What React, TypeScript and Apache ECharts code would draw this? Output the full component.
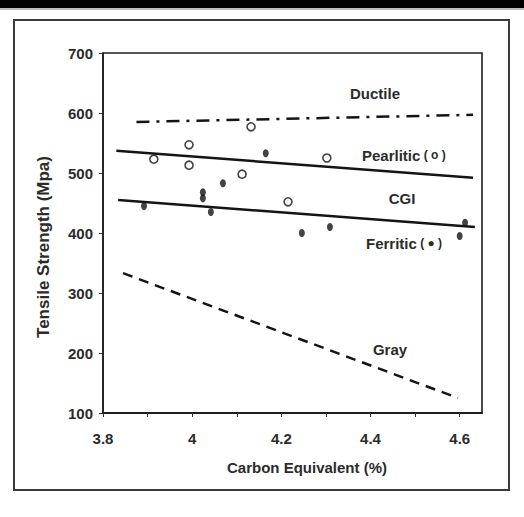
import React, { useEffect, useRef } from "react";
import * as echarts from "echarts";

// Axis ticks
const xLabelTicks = [3.8, 4.0, 4.2, 4.4, 4.6];
const xMinorTicks = [3.8, 3.9, 4.0, 4.1, 4.2, 4.3, 4.4, 4.5, 4.6];
const yTicks = [100, 200, 300, 400, 500, 600, 700];

// Trend lines (endpoints)
const ductileX = [3.875, 4.63];
const ductileY = [585, 597];
const pearliticLineX = [3.83, 4.63];
const pearliticLineY = [537, 492];
const cgiLineX = [3.834, 4.634];
const cgiLineY = [455, 410];
const grayX = [3.845, 4.596];
const grayY = [333, 125];

// Measured points
const pearliticX = [3.914, 3.993, 3.993, 4.112, 4.132, 4.215, 4.302];
const pearliticY = [523, 547, 513, 498, 577, 452, 525];
const ferriticX = [3.892, 4.024, 4.024, 4.042, 4.069, 4.165, 4.246, 4.309, 4.6, 4.612];
const ferriticY = [445, 458, 468, 435, 483, 533, 400, 410, 395, 417];

const zip = (xs: number[], ys: number[]) => xs.map((x, i) => [x, ys[i]]);

const FONT = "'Liberation Sans', Arial, sans-serif";
const TXT = "#2b2b2b";
const INK = "#141414";

export default function App() {
  const ref = useRef<HTMLDivElement>(null);
  useEffect(() => {
    if (!ref.current) return;
    const chart = echarts.init(ref.current, null, { renderer: "svg" });
    const lineSeries = (name: string, xs: number[], ys: number[], type: any, width = 2.5) => ({
      name,
      type: "line",
      data: zip(xs, ys),
      symbol: "none",
      lineStyle: { color: INK, width, type },
      silent: true,
      z: 3,
    });
    chart.setOption({
      animation: false,
      backgroundColor: "#ffffff",
      grid: {
        left: 103,
        right: 42,
        top: 53,
        bottom: 104,
        show: true,
        borderColor: "#1e1e1e",
        borderWidth: 1.6,
      },
      xAxis: {
        type: "value",
        min: 3.8,
        max: 4.65,
        interval: 0.1,
        splitLine: { show: false },
        axisLine: { lineStyle: { color: "#1e1e1e", width: 2 } },
        axisTick: {
          length: 4,
          lineStyle: { color: "#333" },
          customValues: xMinorTicks,
        },
        axisLabel: {
          customValues: xLabelTicks,
          formatter: (v: number) => String(Math.round(v * 10) / 10),
          margin: 18,
          color: TXT,
          fontFamily: FONT,
          fontWeight: "bold",
          fontSize: 15,
        },
      },
      yAxis: {
        type: "value",
        min: 100,
        max: 700,
        interval: 100,
        splitLine: { show: false },
        axisLine: { lineStyle: { color: "#1e1e1e", width: 1.6 } },
        axisTick: { length: 4, lineStyle: { color: "#333" }, customValues: yTicks },
        axisLabel: {
          customValues: yTicks,
          margin: 10,
          color: TXT,
          fontFamily: FONT,
          fontWeight: "bold",
          fontSize: 15,
          padding: [5, 0, 0, 0],
        },
      },
      graphic: [
        { type: "rect", shape: { x: 0, y: 0, width: 524, height: 8 }, style: { fill: "#000" } },
        { type: "rect", shape: { x: 0, y: 8, width: 524, height: 2 }, style: { fill: "#bdbdbd" } },
        {
          type: "rect",
          shape: { x: 14, y: 20, width: 495, height: 470 },
          style: { fill: "none", stroke: "#3a3a3a", lineWidth: 2 },
        },
        {
          type: "text",
          x: 307,
          y: 467,
          style: {
            text: "Carbon Equivalent (%)",
            textAlign: "center",
            textVerticalAlign: "middle",
            fill: TXT,
            font: `bold 15px ${FONT}`,
          },
        },
        {
          type: "text",
          x: 43,
          y: 247,
          rotation: Math.PI / 2,
          style: {
            text: "Tensile Strength (Mpa)",
            textAlign: "center",
            textVerticalAlign: "middle",
            fill: TXT,
            font: `bold 17px ${FONT}`,
          },
        },
        {
          type: "text",
          x: 375,
          y: 93,
          style: { text: "Ductile", textAlign: "center", textVerticalAlign: "middle", fill: TXT, font: `bold 15px ${FONT}` },
        },
        {
          type: "text",
          x: 362,
          y: 155,
          style: {
            text: "{a|Pearlitic}{b| ( o )}",
            textAlign: "left",
            textVerticalAlign: "middle",
            rich: {
              a: { fill: TXT, fontFamily: FONT, fontWeight: "bold", fontSize: 15 },
              b: { fill: TXT, fontFamily: FONT, fontWeight: "bold", fontSize: 12 },
            },
          },
        },
        {
          type: "text",
          x: 402,
          y: 198,
          style: { text: "CGI", textAlign: "center", textVerticalAlign: "middle", fill: TXT, font: `bold 15px ${FONT}` },
        },
        {
          type: "text",
          x: 366,
          y: 243,
          style: {
            text: "{a|Ferritic}{b| ( ● )}",
            textAlign: "left",
            textVerticalAlign: "middle",
            rich: {
              a: { fill: TXT, fontFamily: FONT, fontWeight: "bold", fontSize: 15 },
              b: { fill: TXT, fontFamily: FONT, fontWeight: "bold", fontSize: 12 },
            },
          },
        },
        {
          type: "text",
          x: 390,
          y: 349,
          style: { text: "Gray", textAlign: "center", textVerticalAlign: "middle", fill: TXT, font: `bold 15px ${FONT}` },
        },
      ],
      series: [
        lineSeries("Ductile", ductileX, ductileY, [13, 7, 3, 7]),
        lineSeries("Pearlitic trend", pearliticLineX, pearliticLineY, "solid"),
        lineSeries("CGI trend", cgiLineX, cgiLineY, "solid"),
        lineSeries("Gray", grayX, grayY, [10, 7]),
        {
          name: "Pearlitic",
          type: "scatter",
          data: zip(pearliticX, pearliticY),
          symbol: "circle",
          symbolSize: 8,
          itemStyle: { color: "#fff", borderColor: INK, borderWidth: 1.6 },
          z: 4,
        },
        {
          name: "Ferritic",
          type: "scatter",
          data: zip(ferriticX, ferriticY),
          symbol: "circle",
          symbolSize: [6, 8],
          itemStyle: { color: INK },
          z: 4,
        },
      ],
    });
    return () => chart.dispose();
  }, []);
  return (
    <div
      ref={ref}
      style={{ position: "absolute", left: 0, top: 0, width: 524, height: 517, background: "#fff" }}
    />
  );
}
